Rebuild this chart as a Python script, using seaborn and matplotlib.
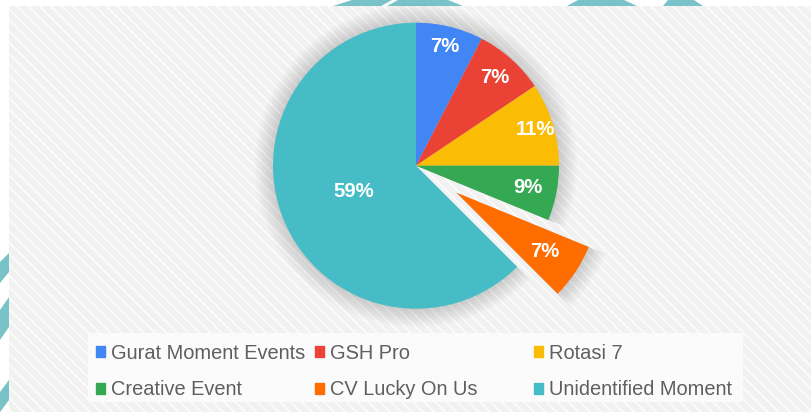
import numpy as np
import seaborn as sns
import matplotlib.pyplot as plt
import matplotlib.patches as mpatches

# data
categories = ['Gurat Moment Events', 'GSH Pro', 'Rotasi 7',
              'Creative Event', 'CV Lucky On Us', 'Unidentified Moment']
shares = [7.6, 8.0, 9.4, 6.2, 6.3, 62.5]          # slice sizes as drawn
pct_labels = ['7%', '7%', '11%', '9%', '7%', '59%']  # printed on slices
colors = ['#4285F4', '#EA4335', '#FBBC04', '#34A853', '#FF6D01', '#46BDC6']
explode = [0, 0, 0, 0, 0.34, 0]
label_dist = [0.86, 0.825, 0.87, 0.80, 0.74, 0.475]

sns.set_theme(style='white')
plt.rcParams['font.family'] = ['Liberation Sans', 'DejaVu Sans']
plt.rcParams['hatch.linewidth'] = 1.3

W, H = 811, 412
fig = plt.figure(figsize=(W / 100, H / 100), dpi=100)
fig.patch.set_facecolor('white')


def px_rect(x0, y0, x1, y1, **kw):
    # rectangle given in pixel coords (origin top-left)
    return mpatches.Rectangle((x0 / W, 1 - y1 / H), (x1 - x0) / W, (y1 - y0) / H,
                              transform=fig.transFigure, **kw)


def px_poly(pts, **kw):
    return mpatches.Polygon([(x / W, 1 - y / H) for x, y in pts],
                            closed=True, transform=fig.transFigure, **kw)


# striped chart background
fig.patches.append(px_rect(9, 6, W, H, facecolor='#f1f1f1', edgecolor='#fcfcfc',
                           hatch='\\\\\\', linewidth=0, zorder=0))
# legend panel
fig.patches.append(px_rect(88, 333, 743, 402, facecolor='#fbfbfb',
                           edgecolor='none', zorder=0.5))

# teal decoration peeking around the edges
teal = '#79c2c7'
for pts in [[(333, 6), (381, 6), (392, 0), (352, 0)],
            [(387, 6), (463, 6), (448, 0), (398, 0)],
            [(567, 6), (637, 6), (624, 0), (578, 0)],
            [(663, 6), (703, 6), (694, 0), (668, 0)],
            [(0, 262), (9, 253), (9, 272), (0, 283)],
            [(0, 310), (9, 297), (9, 327), (0, 340)],
            [(0, 392), (9, 380), (9, 400), (0, 412)]]:
    fig.patches.append(px_poly(pts, facecolor=teal, edgecolor='none', zorder=0))

# axes: 1 data unit == pie radius (143 px), centre at (416, 165.7)
R, cx, cy = 143, 416, 165.7
ax = fig.add_axes([0, 0, 1, 1])
ax.set_zorder(2)
ax.patch.set_alpha(0)

# soft shadow behind the slices (stacked faint copies)
for r in np.linspace(1.13, 1.0, 14):
    ax.pie(shares, radius=r, explode=explode, startangle=90, counterclock=False,
           colors=['black'] * len(shares),
           wedgeprops=dict(linewidth=0, alpha=0.012))

wedges, _ = ax.pie(shares, explode=explode, colors=colors, startangle=90,
                   counterclock=False, wedgeprops=dict(linewidth=0))

for w, txt, d in zip(wedges, pct_labels, label_dist):
    mid = np.deg2rad((w.theta1 + w.theta2) / 2)
    x = w.center[0] + d * w.r * np.cos(mid)
    y = w.center[1] + d * w.r * np.sin(mid)
    ax.text(x, y, txt, ha='center', va='center', color='white',
            fontsize=14.6, fontweight='bold')

ax.set_xlim(-cx / R, (W - cx) / R)
ax.set_ylim(-(H - cy) / R, cy / R)
ax.set_aspect('auto')
ax.axis('off')

# legend: three columns, filled row by row
col_x = [96, 315, 534]
for c, x in enumerate(col_x):
    idx = [c, c + 3]
    handles = [mpatches.Patch(color=colors[i]) for i in idx]
    leg = fig.legend(handles, [categories[i] for i in idx], loc='center left',
                     bbox_to_anchor=(x / W, 1 - 371.5 / H), frameon=False,
                     fontsize=14.4, labelcolor='#5f5f5f', handlelength=0.45,
                     handleheight=0.5, handletextpad=0.3, labelspacing=0.88,
                     borderpad=0, borderaxespad=0)
    leg.set_zorder(3)

fig.savefig('out.png', dpi=100)
